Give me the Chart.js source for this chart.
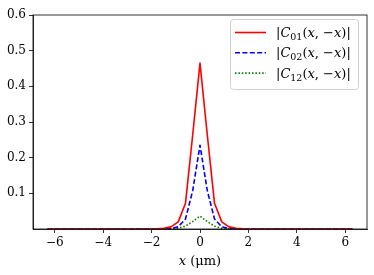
<!DOCTYPE html>
<html>
<head>
<meta charset="utf-8">
<script src="https://cdn.jsdelivr.net/npm/chart.js@4"></script>
<style>
  html, body { margin: 0; padding: 0; background: #fff; }
</style>
</head>
<body>
<canvas id="chart" width="374" height="275"></canvas>
<script>
// ── Data ──────────────────────────────────────────────────────────────────────

const xValues = [-6.3, -6.0, -5.7, -5.4, -5.1, -4.8, -4.5, -4.2, -3.9, -3.6, -3.3,
                 -3.0, -2.7, -2.4, -2.1, -1.8, -1.5, -1.2, -0.9, -0.6, -0.3,
                 0.0,
                 0.3, 0.6, 0.9, 1.2, 1.5, 1.8, 2.1, 2.4, 2.7, 3.0,
                 3.3, 3.6, 3.9, 4.2, 4.5, 4.8, 5.1, 5.4, 5.7, 6.0, 6.3];

const c01 = [0, 0, 0, 0, 0, 0, 0, 0, 0, 0, 0,
             0, 0, 0, 0.0002, 0.0006, 0.002, 0.006, 0.02, 0.072, 0.265,
             0.465,
             0.265, 0.072, 0.02, 0.006, 0.002, 0.0006, 0.0002, 0, 0, 0,
             0, 0, 0, 0, 0, 0, 0, 0, 0, 0, 0];

const c02 = [0, 0, 0, 0, 0, 0, 0, 0, 0, 0, 0,
             0, 0, 0, 0, 0, 0.0004, 0.0015, 0.006, 0.028, 0.108,
             0.235,
             0.108, 0.028, 0.006, 0.0015, 0.0004, 0, 0, 0, 0, 0,
             0, 0, 0, 0, 0, 0, 0, 0, 0, 0, 0];

const c12 = [0, 0, 0, 0, 0, 0, 0, 0, 0, 0, 0,
             0, 0, 0, 0, 0, 0, 0.0005, 0.002, 0.008, 0.021,
             0.036,
             0.021, 0.008, 0.002, 0.0005, 0, 0, 0, 0, 0, 0,
             0, 0, 0, 0, 0, 0, 0, 0, 0, 0, 0];

const xTicks = [-6, -4, -2, 0, 2, 4, 6];
const yTicks = [0.1, 0.2, 0.3, 0.4, 0.5, 0.6];
const seriesSubs = ['01', '02', '12'];

// ── Helpers ───────────────────────────────────────────────────────────────────

const SERIF = '"DejaVu Serif", "Liberation Serif", serif';
const toPoints = ys => xValues.map((x, i) => ({ x, y: ys[i] }));
const minus = v => (v < 0 ? '\u2212' + Math.abs(v) : String(v));

const axisCommon = {
    ticks: { color: '#000', font: { family: SERIF, size: 12 }, padding: 3 },
    grid: { drawOnChartArea: false, drawTicks: true, tickLength: 4, tickColor: '#000', tickWidth: 0.8 },
    border: { color: '#000', width: 0.8 }
};

// draw the top/right spines, legend and x label (italic pieces need manual text)
const decorations = {
    id: 'decorations',
    afterDatasetsDraw(chart) {
        const { ctx, chartArea: a } = chart;
        ctx.save();
        ctx.strokeStyle = '#000';
        ctx.lineWidth = 0.8;
        ctx.strokeRect(a.left, a.top, a.right - a.left, a.bottom - a.top);
        ctx.restore();
    },
    afterDraw(chart) {
        const { ctx, chartArea: a } = chart;
        ctx.save();

        // legend box
        const bx = 230.5, by = 19.5, bw = 128, bh = 70, r = 3;
        ctx.beginPath();
        ctx.roundRect(bx, by, bw, bh, r);
        ctx.fillStyle = 'rgba(255,255,255,0.8)';
        ctx.fill();
        ctx.strokeStyle = '#d0d0d0';
        ctx.lineWidth = 1;
        ctx.stroke();

        chart.data.datasets.forEach((ds, i) => {
            const y = 32.5 + i * 20.3;
            ctx.beginPath();
            ctx.setLineDash(ds.borderDash || []);
            ctx.strokeStyle = ds.borderColor;
            ctx.lineWidth = ds.borderWidth;
            ctx.moveTo(235, y);
            ctx.lineTo(266, y);
            ctx.stroke();
            ctx.setLineDash([]);
            drawLabel(ctx, 276, y + 4.5, seriesSubs[i]);
        });

        // x axis title
        ctx.fillStyle = '#000';
        ctx.textBaseline = 'alphabetic';
        const cx = (a.left + a.right) / 2;
        const parts = [['italic 13px ' + SERIF, 'x'], ['13px ' + SERIF, ' (\u03bcm)']];
        let w = 0;
        parts.forEach(([f, t]) => { ctx.font = f; w += ctx.measureText(t).width; });
        let x = cx - w / 2;
        parts.forEach(([f, t]) => { ctx.font = f; ctx.fillText(t, x, 265); x += ctx.measureText(t).width; });

        ctx.restore();
    }
};

function drawLabel(ctx, x, y, sub) {
    const pieces = [
        ['13px ' + SERIF, '|', 0],
        ['italic 13px ' + SERIF, 'C', 0],
        ['9.5px ' + SERIF, sub, 3],
        ['13px ' + SERIF, '(', 0],
        ['italic 13px ' + SERIF, 'x', 0],
        ['13px ' + SERIF, ', \u2212', 0],
        ['italic 13px ' + SERIF, 'x', 0],
        ['13px ' + SERIF, ')|', 0]
    ];
    ctx.fillStyle = '#000';
    ctx.textBaseline = 'alphabetic';
    pieces.forEach(([f, t, dy]) => {
        ctx.font = f;
        ctx.fillText(t, x, y + dy);
        x += ctx.measureText(t).width;
    });
}

// ── Chart ─────────────────────────────────────────────────────────────────────

new Chart(document.getElementById('chart').getContext('2d'), {
    type: 'line',
    data: {
        datasets: [
            { data: toPoints(c01), borderColor: '#ff0000', borderWidth: 1.6 },
            { data: toPoints(c02), borderColor: '#0000ff', borderWidth: 1.6, borderDash: [5, 2.4] },
            { data: toPoints(c12), borderColor: '#008000', borderWidth: 1.6, borderDash: [1.5, 1.9] }
        ]
    },
    options: {
        responsive: false,
        animation: false,
        devicePixelRatio: 1,
        layout: { padding: { left: 0, right: 7, top: 15, bottom: 0 } },
        elements: {
            point: { radius: 0, hoverRadius: 0 },
            line: { tension: 0, borderJoinStyle: 'round', borderCapStyle: 'butt' }
        },
        plugins: { legend: { display: false }, tooltip: { enabled: false } },
        scales: {
            x: {
                ...axisCommon,
                type: 'linear',
                min: -6.9, max: 6.9,
                afterBuildTicks: s => { s.ticks = xTicks.map(v => ({ value: v })); },
                afterFit: s => { s.height = 46; },
                ticks: { ...axisCommon.ticks, callback: v => minus(v) }
            },
            y: {
                ...axisCommon,
                min: 0, max: 0.6,
                afterBuildTicks: s => { s.ticks = yTicks.map(v => ({ value: v })); },
                afterFit: s => { s.width = 33; },
                ticks: { ...axisCommon.ticks, callback: v => v.toFixed(1) }
            }
        }
    },
    plugins: [decorations]
});
</script>
</body>
</html>
